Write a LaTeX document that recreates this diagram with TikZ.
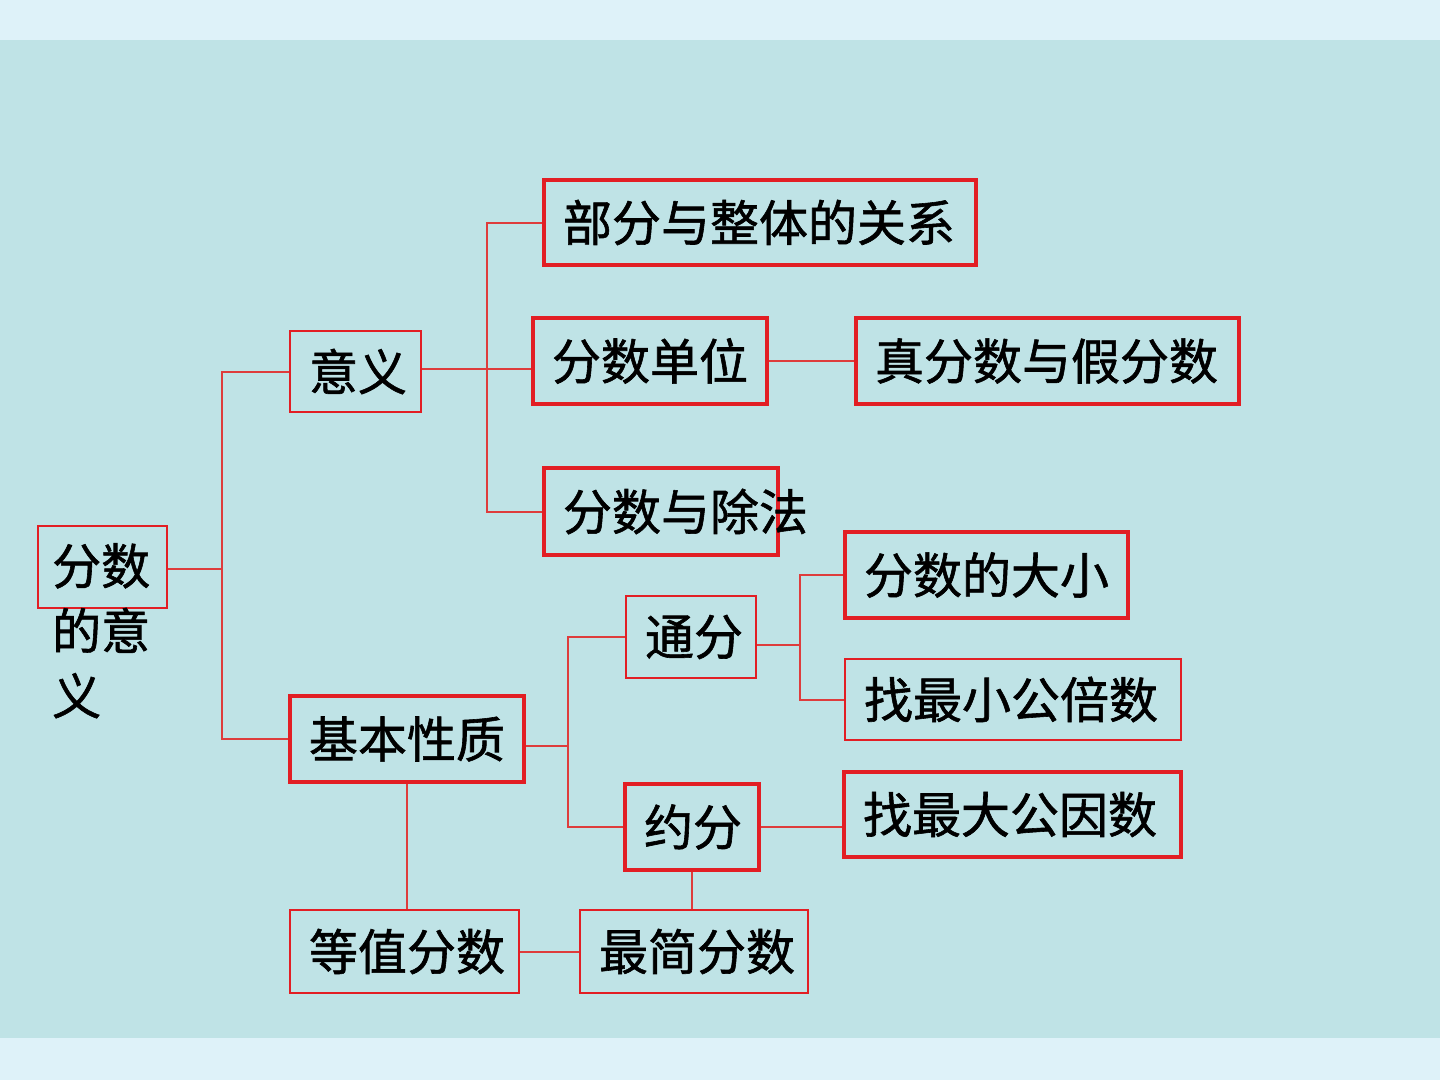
\documentclass[tikz,border=0pt]{standalone}
\usepackage{fontspec}
\setmainfont{Noto Sans CJK SC}[FakeBold=1.2]
\definecolor{bgmain}{RGB}{191,227,230}
\definecolor{bgband}{RGB}{222,242,249}
\definecolor{boxred}{RGB}{226,30,36}
\definecolor{linered}{RGB}{222,60,60}
\begin{document}
\begin{tikzpicture}[x=1pt,y=-1pt,
  every node/.style={font=\fontsize{49}{65}\selectfont},
  boxbase/.style={draw=boxred, rectangle, inner xsep=19pt, inner ysep=0pt, align=left, anchor=center},
  thinbox/.style={boxbase, line width=2pt},
  thickbox/.style={boxbase, line width=4.5pt},
  conn/.style={draw=linered, line width=2pt},
]
% background
\fill[bgmain] (0,0) rectangle (1440,1080);
\fill[bgband] (0,0) rectangle (1440,40);
\fill[bgband] (0,1038) rectangle (1440,1080);
\useasboundingbox (0,0) rectangle (1440,1080);

% boxes
\node[thinbox, text width=91pt, minimum height=82pt] (fs) at (102.5,567) {};
\node[anchor=north west, inner sep=0pt, align=left] (fst) at (52,543) {分数\\的意\\义};
\node[thinbox, text width=93pt, minimum height=81pt] (yy) at (355.5,371.5) {意义};
\node[thickbox, text width=394pt, minimum height=85pt] (bf) at (760,222.5) {部分与整体的关系};
\node[thickbox, text width=196pt, minimum height=86pt] (dw) at (650,361) {分数单位};
\node[thickbox, text width=345pt, minimum height=86pt] (zf) at (1047.5,361) {真分数与假分数};
\node[thickbox, text width=196pt, minimum height=87pt] (cf) at (661,511.5) {分数与除法};
\node[thickbox, text width=245pt, minimum height=86pt] (dx) at (986.5,575) {分数的大小};
\node[thinbox, text width=92pt, minimum height=82pt] (tf) at (691,637) {通分};
\node[thinbox, text width=298pt, minimum height=81pt] (bs) at (1013,699.5) {找最小公倍数};
\node[thickbox, text width=196pt, minimum height=86pt] (jb) at (407,739) {基本性质};
\node[thickbox, text width=96pt, minimum height=86pt] (yf) at (692,827) {约分};
\node[thickbox, text width=299pt, minimum height=85pt] (ys) at (1012.5,814.5) {找最大公因数};
\node[thinbox, text width=191pt, minimum height=83pt] (dz) at (404.5,951.5) {等值分数};
\node[thinbox, text width=190pt, minimum height=83pt] (zj) at (694,951.5) {最简分数};

% trunk coordinates
\coordinate (t1) at (222,569);
\coordinate (t2) at (487,369);
\coordinate (t3) at (568,746);
\coordinate (t4) at (800,645);

% connectors
\draw[conn] (fs.east |- t1) -- (t1);
\draw[conn] (yy.west) -| (t1) |- (jb.west);
\draw[conn] (yy.east |- t2) -- (t2) -- (t2 -| dw.west);
\draw[conn] (bf.west) -| (t2) |- (cf.west);
\draw[conn] (dw.east) -- (zf.west);
\draw[conn] (jb.east |- t3) -- (t3);
\draw[conn] (tf.west) -| (t3) |- (yf.west);
\draw[conn] (tf.east |- t4) -- (t4);
\draw[conn] (dx.west) -| (t4) |- (bs.west);
\draw[conn] (yf.east) -- (yf.east -| ys.west);
\draw[conn] (jb.south) -- (jb.south |- dz.north);
\draw[conn] (yf.south) -- (yf.south |- zj.north);
\draw[conn] (dz.east) -- (zj.west);
\end{tikzpicture}
\end{document}
